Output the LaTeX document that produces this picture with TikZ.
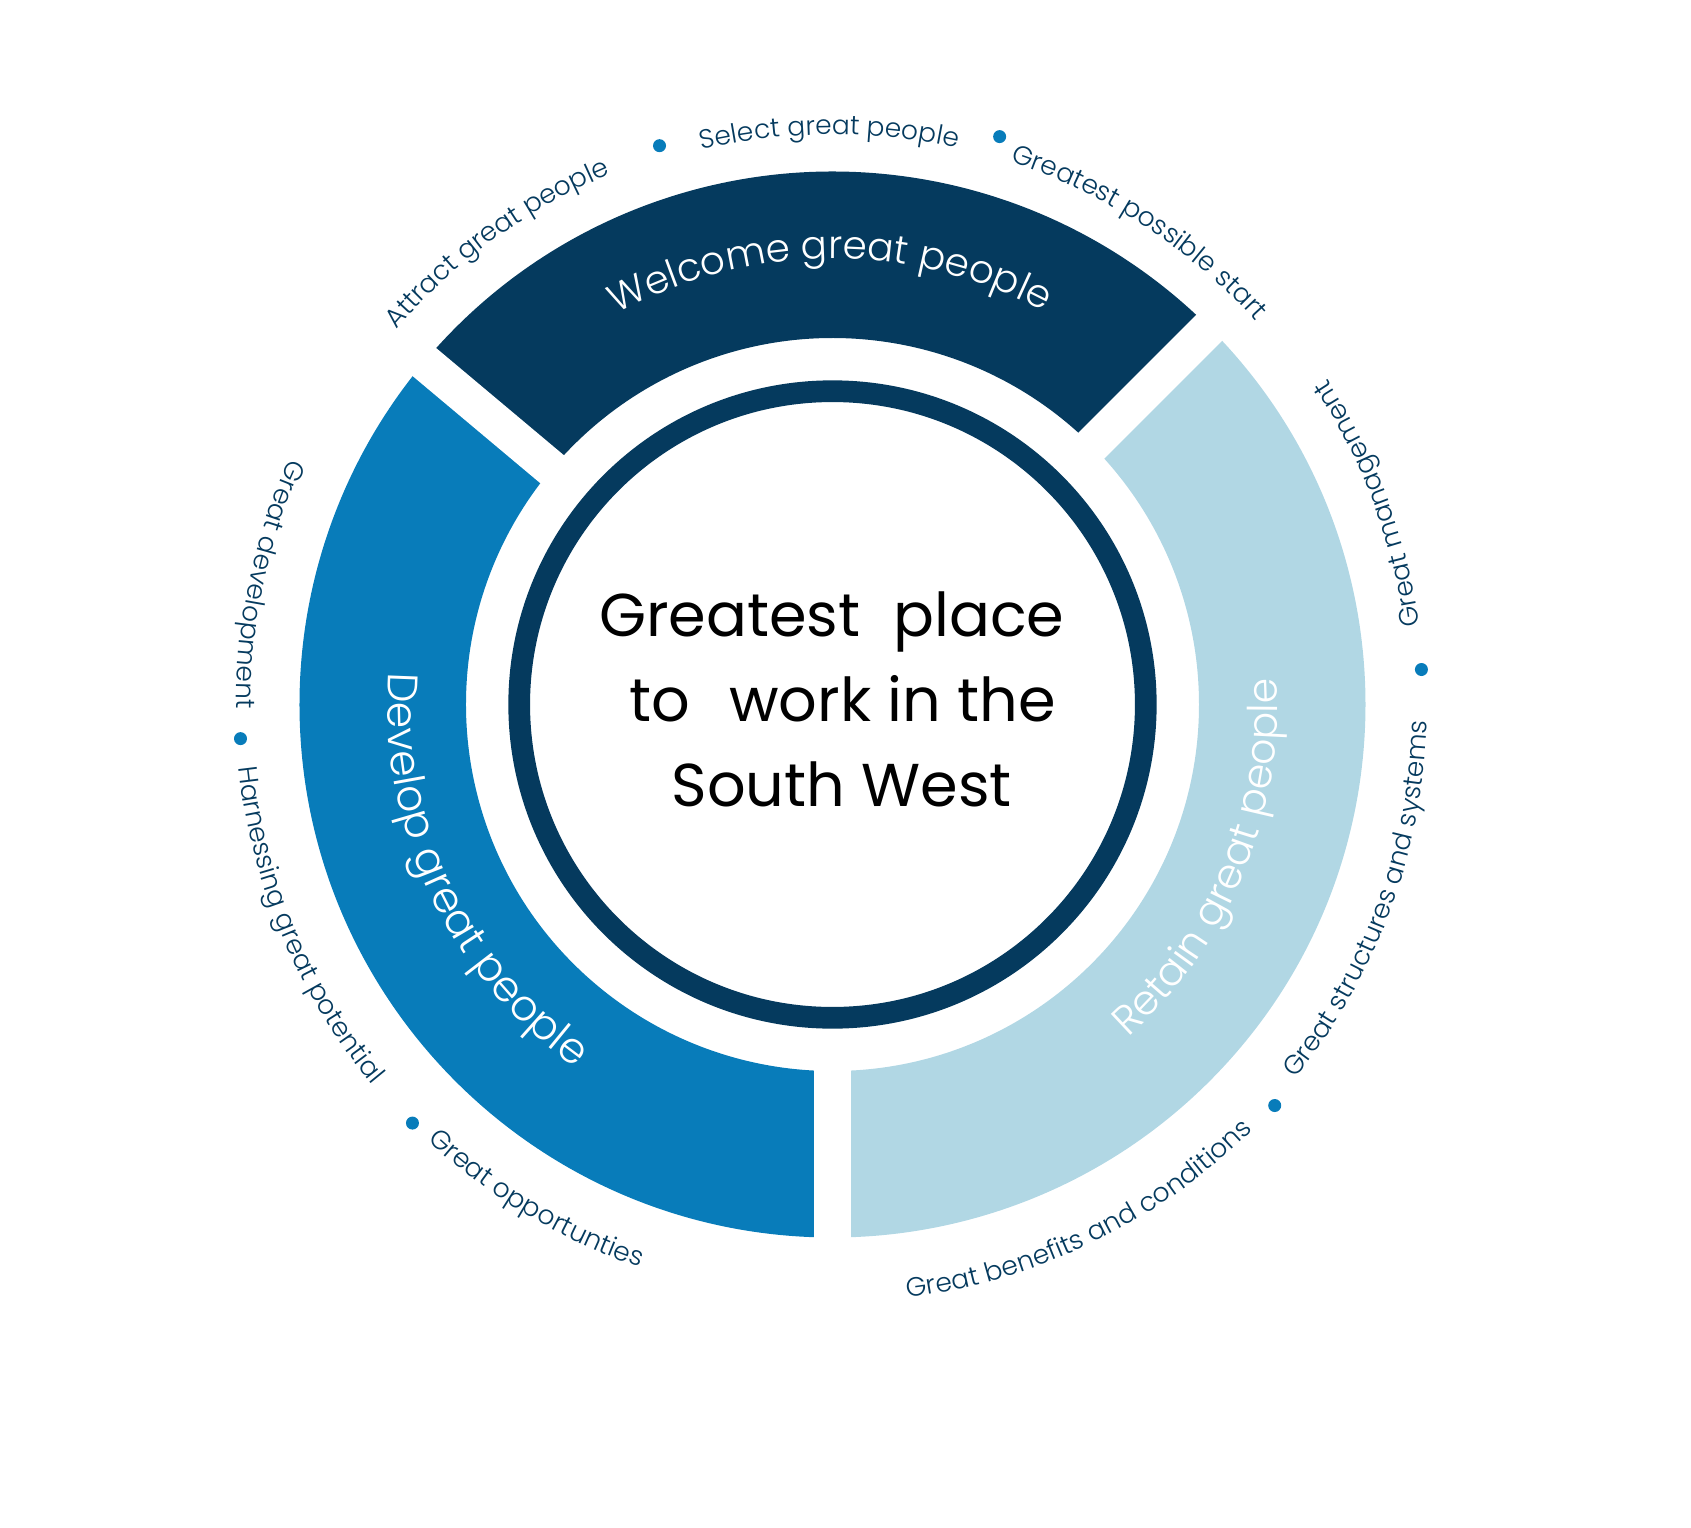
\documentclass[tikz,border=0pt]{standalone}
\usepackage{fontspec}
\setmainfont{Poppins}
\newfontfamily\popl{Poppins Light}
\usetikzlibrary{decorations.text}
\definecolor{navy}{HTML}{053A5E}
\definecolor{midblue}{HTML}{087CBA}
\definecolor{lightblue}{HTML}{B1D7E4}
\tikzset{
  seglbl/.style={decorate, decoration={text along path, text align=center,
     text={|\popl\fontsize{39}{39}\selectfont\color{white}|#1}}},
  seglblb/.style={decorate, decoration={text along path, text align=center,
     text={|\popl\fontsize{41}{41}\selectfont\color{white}|#1}}},
  seglblc/.style={decorate, decoration={text along path, text align=center,
     text={|\popl\fontsize{42.5}{42.5}\selectfont\color{white}|#1}}},
  outlbl/.style={decorate, decoration={text along path, text align=center,
     text={|\popl\fontsize{26.5}{26.5}\selectfont\color{navy}|#1}}},
  bullet/.style={circle, fill=midblue, minimum size=13pt, inner sep=0pt},
  centretxt/.style={anchor=base, inner sep=0pt, font=\fontsize{60.5}{60.5}\selectfont, text=black},
  gapstrip/.style={white, line width=36.6pt}
}
\begin{document}
\begin{tikzpicture}[x=1pt,y=1pt]
\useasboundingbox (-832.5,-822.5) rectangle (858.5,704.5);
% ring segments
\fill[navy] (45:366.5) arc[start angle=45,end angle=140,radius=366.5] -- (140:533) arc[start angle=140,end angle=45,radius=533] -- cycle;
\fill[midblue] (140:366.5) arc[start angle=140,end angle=270,radius=366.5] -- (270:533) arc[start angle=270,end angle=140,radius=533] -- cycle;
\fill[lightblue] (-90:366.5) arc[start angle=-90,end angle=45,radius=366.5] -- (45:533) arc[start angle=45,end angle=-90,radius=533] -- cycle;
% gaps between segments
\foreach \a in {45,140,270} \draw[gapstrip] (\a:350) -- (\a:550);
% hub
\node[circle, draw=navy, line width=21.7pt, fill=white, minimum size=626.6pt, inner sep=0pt] (hub) at (0,0) {};
\node[centretxt] (l1) at (-0.8,67.8) {Greatest\hspace{0.55em}place};
\node[centretxt] (l2) at (10,-17.2) {to\hspace{0.65em}work in the};
\node[centretxt] (l3) at (9.2,-102.2) {South West};
% segment labels
\path[seglbl={Welcome great people}] (130.3:446) arc[start angle=130.3,end angle=50.3,radius=446];
\path[seglblc={Develop great people}] (165.3:445) arc[start angle=165.3,end angle=245.3,radius=445];
\path[seglblb={Retain great people}] (-62.5:445) arc[start angle=-62.5,end angle=17.5,radius=445];
% outer labels (tops outward)
\path[outlbl={Attract great people}] (156:575) arc[start angle=156,end angle=96,radius=575];
\path[outlbl={Select great people}] (120.3:570) arc[start angle=120.3,end angle=60.3,radius=570];
\path[outlbl={Greatest possible start}] (87:571) arc[start angle=87,end angle=27,radius=571];
% outer labels (tops inward)
\path[outlbl={Great management}] (-14.5:592) arc[start angle=-14.5,end angle=55.5,radius=592];
\path[outlbl={Great structures and systems}] (-55.3:595) arc[start angle=-55.3,end angle=14.7,radius=595];
\path[outlbl={Great benefits and conditions}] (-99.1:598) arc[start angle=-99.1,end angle=-29.1,radius=598];
\path[outlbl={Great opportunties}] (204.1:595) arc[start angle=204.1,end angle=274.1,radius=595];
\path[outlbl={Harnessing great potential}] (167.8:597) arc[start angle=167.8,end angle=237.8,radius=597];
\path[outlbl={Great development}] (133:596) arc[start angle=133,end angle=203,radius=596];
% bullets
\node[bullet] (d1) at (107.2:585) {};
\node[bullet] (d2) at (73.6:592) {};
\node[bullet] (d3) at (3.4:590) {};
\node[bullet] (d4) at (-42.2:597) {};
\node[bullet] (d5) at (224.9:593) {};
\node[bullet] (d6) at (183.3:593) {};
\end{tikzpicture}
\end{document}
